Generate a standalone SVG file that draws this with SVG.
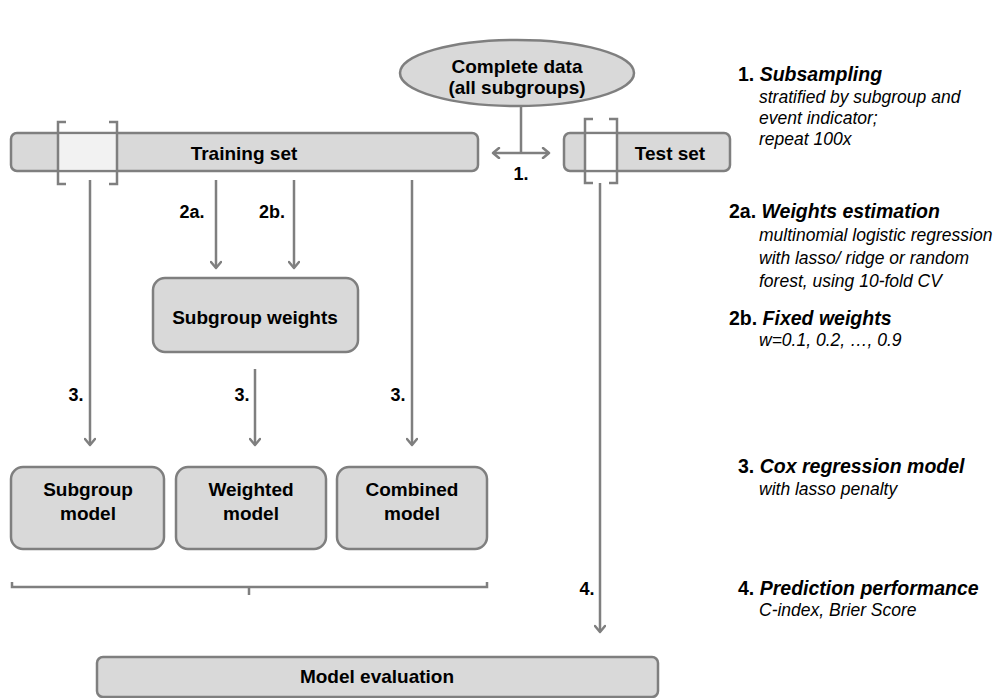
<svg xmlns="http://www.w3.org/2000/svg" width="998" height="698" viewBox="0 0 998 698">
<defs>
<marker id="ah" viewBox="0 0 12 12" refX="10" refY="6" markerWidth="12" markerHeight="12" markerUnits="userSpaceOnUse" orient="auto-start-reverse">
<polyline points="4,1 10,6 4,11" fill="none" stroke="#7f7f7f" stroke-width="2.5" stroke-linecap="round" stroke-linejoin="round"/>
</marker>
<style>
.box{fill:#d9d9d9;stroke:#7f7f7f;stroke-width:2.5}
.ln{fill:none;stroke:#7f7f7f;stroke-width:2.5}
.arr{fill:none;stroke:#7f7f7f;stroke-width:2.5;marker-end:url(#ah)}
.br{fill:none;stroke:#7f7f7f;stroke-width:2.5}
.t{font-family:"Liberation Sans",Arial,sans-serif;font-weight:bold;font-size:19px;fill:#000;text-anchor:middle}
.lb{font-family:"Liberation Sans",Arial,sans-serif;font-weight:bold;font-size:18px;fill:#000;text-anchor:middle}
.h{font-family:"Liberation Sans",Arial,sans-serif;font-weight:bold;font-size:19.5px;fill:#000}
.hi{font-style:italic}
.s{font-family:"Liberation Sans",Arial,sans-serif;font-style:italic;font-size:17.5px;fill:#000}
</style>
</defs>

<g id="complete-data">
<ellipse class="box" cx="517" cy="73" rx="117" ry="33"/>
<text class="t" x="517" y="73">Complete data</text>
<text class="t" x="517" y="94">(all subgroups)</text>
</g>

<g id="training-set">
<rect class="box" x="11" y="133" width="467" height="38" rx="6"/>
<rect x="58" y="134.3" width="59" height="35.4" fill="#f2f2f2"/>
<polyline class="br" points="66,122 58,122 58,184 66,184"/>
<polyline class="br" points="109,122 117,122 117,184 109,184"/>
<text class="t" x="244" y="160">Training set</text>
</g>

<g id="test-set">
<rect class="box" x="564" y="133" width="166" height="38" rx="6"/>
<rect x="585" y="134.3" width="32" height="35.4" fill="#ffffff"/>
<polyline class="br" points="593,119 585,119 585,183 593,183"/>
<polyline class="br" points="609,119 617,119 617,183 609,183"/>
<text class="t" x="670" y="160">Test set</text>
</g>

<g id="subgroup-weights">
<rect class="box" x="153" y="278" width="205" height="74" rx="12"/>
<text class="t" x="255" y="324">Subgroup weights</text>
</g>

<g id="subgroup-model">
<rect class="box" x="11" y="467" width="153" height="82" rx="12"/>
<text class="t" x="88" y="496">Subgroup</text>
<text class="t" x="88" y="520">model</text>
</g>

<g id="weighted-model">
<rect class="box" x="176" y="467" width="150" height="82" rx="12"/>
<text class="t" x="251" y="496">Weighted</text>
<text class="t" x="251" y="520">model</text>
</g>

<g id="combined-model">
<rect class="box" x="337" y="467" width="150" height="82" rx="12"/>
<text class="t" x="412" y="496">Combined</text>
<text class="t" x="412" y="520">model</text>
</g>

<g id="model-evaluation">
<rect class="box" x="97" y="657" width="561" height="40" rx="6"/>
<text class="t" x="377" y="683">Model evaluation</text>
</g>

<g id="connectors">
<line class="ln" x1="521" y1="106" x2="521" y2="153"/>
<line class="ln" x1="493" y1="153" x2="549" y2="153" marker-start="url(#ah)" marker-end="url(#ah)"/>
<line class="arr" x1="90" y1="180" x2="90" y2="445"/>
<line class="arr" x1="216" y1="180" x2="216" y2="268"/>
<line class="arr" x1="294" y1="180" x2="294" y2="268"/>
<line class="arr" x1="412" y1="180" x2="412" y2="445"/>
<line class="arr" x1="255" y1="369" x2="255" y2="445"/>
<line class="arr" x1="600" y1="183" x2="600" y2="632"/>
<polyline class="br" points="12,582 12,587 487,587 487,582"/>
<line class="ln" x1="249" y1="587" x2="249" y2="595"/>
</g>

<g id="labels">
<text class="lb" x="521" y="180">1.</text>
<text class="lb" x="192" y="218">2a.</text>
<text class="lb" x="272" y="218">2b.</text>
<text class="lb" x="76" y="401">3.</text>
<text class="lb" x="242" y="401">3.</text>
<text class="lb" x="398" y="401">3.</text>
<text class="lb" x="587" y="595">4.</text>
</g>

<g id="legend">
<text class="h" x="738" y="81">1. <tspan class="hi">Subsampling</tspan></text>
<text class="s" x="759" y="103">stratified by subgroup and</text>
<text class="s" x="759" y="124">event indicator;</text>
<text class="s" x="759" y="145">repeat 100x</text>
<text class="h" x="729" y="218">2a. <tspan class="hi">Weights estimation</tspan></text>
<text class="s" x="759" y="241">multinomial logistic regression</text>
<text class="s" x="759" y="264">with lasso/ ridge or random</text>
<text class="s" x="759" y="287">forest, using 10-fold CV</text>
<text class="h" x="729" y="325">2b. <tspan class="hi">Fixed weights</tspan></text>
<text class="s" x="759" y="346">w=0.1, 0.2, …, 0.9</text>
<text class="h" x="738" y="473">3. <tspan class="hi">Cox regression model</tspan></text>
<text class="s" x="759" y="495">with lasso penalty</text>
<text class="h" x="738" y="595">4. <tspan class="hi">Prediction performance</tspan></text>
<text class="s" x="759" y="616">C-index, Brier Score</text>
</g>
</svg>
